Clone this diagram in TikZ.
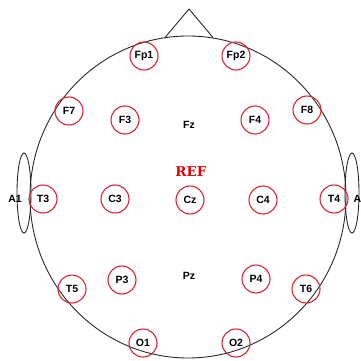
\documentclass[tikz,border=0pt]{standalone}
\usepackage{fontspec}
\setmainfont{Liberation Sans}
\newfontfamily\refserif{DejaVu Serif}
\definecolor{elecred}{RGB}{214,40,48}
\definecolor{headgray}{RGB}{40,40,40}

\begin{document}
\begin{tikzpicture}[
    x=1pt, y=-1pt,
    electrode/.style={circle, draw=elecred, line width=1.1pt, minimum size=28pt, inner sep=0pt, font=\fontsize{10.5}{12}\selectfont\bfseries},
    midline/.style={inner sep=0pt, font=\fontsize{10.5}{12}\selectfont\bfseries},
    earlabel/.style={inner sep=0pt, font=\fontsize{10.5}{12}\selectfont\bfseries},
    reflabel/.style={inner sep=0pt, text=red!90!black, font=\refserif\bfseries\fontsize{13.5}{15}\selectfont},
    outline/.style={draw=headgray, line width=0.9pt}
]
    \useasboundingbox (0,0) rectangle (360,361);

    % Head, nose and ears
    \draw[outline] (188,197) ellipse [x radius=158, y radius=161];
    \coordinate (noseL) at (165,37.5);
    \coordinate (noseTip) at (189,9);
    \coordinate (noseR) at (213,37.5);
    \draw[outline] (noseL) -- (noseTip) -- (noseR);
    \draw[outline] (24,193) ellipse [x radius=7, y radius=40];
    \draw[outline] (352,193) ellipse [x radius=7, y radius=40];
    \node[earlabel] (a1) at (15,199) {A1};
    \node[earlabel, anchor=west] (a2) at (353.5,199) {A2};

    % Frontal row
    \node[electrode] (fp1) at (144,56) {Fp1};
    \node[electrode] (fp2) at (236,56) {Fp2};
    \node[electrode] (f7) at (69,111) {F7};
    \node[electrode] (f3) at (125,120) {F3};
    \node[midline] (fz) at (189,125) {Fz};
    \node[electrode] (f4) at (255,120) {F4};
    \node[electrode] (f8) at (307,110) {F8};

    % Reference
    \node[reflabel] (ref) at (191,172) {REF};

    % Central row
    \node[electrode] (t3) at (43,199) {T3};
    \node[electrode] (c3) at (115,199) {C3};
    \node[electrode] (cz) at (190,200) {Cz};
    \node[electrode] (c4) at (263,200) {C4};
    \node[electrode] (t4) at (334,199) {T4};

    % Parietal and occipital rows
    \node[electrode] (t5) at (72,289) {T5};
    \node[electrode] (p3) at (122,280) {P3};
    \node[midline] (pz) at (189,276) {Pz};
    \node[electrode] (p4) at (256,279) {P4};
    \node[electrode] (t6) at (306,289) {T6};
    \node[electrode] (o1) at (143,343) {O1};
    \node[electrode] (o2) at (236,343) {O2};

\end{tikzpicture}
\end{document}
